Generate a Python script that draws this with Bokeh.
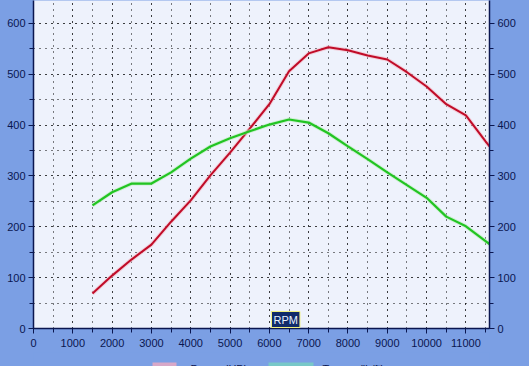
from bokeh.plotting import figure
from bokeh.models import (Range1d, LinearAxis, SingleIntervalTicker, Label)
from bokeh.layouts import column
from bokeh.core.properties import value
from bokeh.embed import file_html
from bokeh.resources import INLINE

rpm = [1500, 2000, 2500, 3000, 3500, 4000, 4500, 5000, 5500, 6000, 6500, 7000,
       7500, 8000, 8500, 9000, 9500, 10000, 10500, 11000, 11500, 11600]
power_hp = [69, 104, 136, 165, 210, 252, 301, 346, 393, 441, 506, 541,
            553, 547, 537, 529, 504, 476, 441, 419, 368, 358]
torque_lbft = [242, 268, 285, 285, 307, 334, 358, 374, 388, 401, 411, 405,
               384, 358, 333, 307, 282, 257, 220, 201, 172, 166]
y_ticks = [0, 100, 200, 300, 400, 500, 600]
x_ticks = [0, 1000, 2000, 3000, 4000, 5000, 6000, 7000, 8000, 9000, 10000, 11000]
legend_labels = ["Power (HP)", "Torque (lb/ft)"]
legend_colors = ["#d8a8c8", "#78c8c8"]
axis_title = "RPM"

OUTER = "#7b9fe4"
INNER = "#eef2fc"
NAVY = "#0a1650"

p = figure(width=529, height=352, output_backend="svg", toolbar_location=None,
           x_range=Range1d(0, 11600), y_range=Range1d(0, 645),
           min_border_left=33, min_border_right=40, min_border_top=0, min_border_bottom=24)
p.border_fill_color = OUTER
p.background_fill_color = INNER
p.outline_line_color = None
p.styles = {"background-color": OUTER}

def style_axis(ax, standoff=3):
    ax.axis_line_color = NAVY
    ax.axis_line_width = 1.5
    ax.major_tick_line_color = NAVY
    ax.minor_tick_line_color = NAVY
    ax.major_tick_out = 5
    ax.major_tick_in = 0
    ax.minor_tick_out = 4
    ax.minor_tick_in = 0
    ax.major_label_text_font = "Liberation Sans"
    ax.major_label_text_font_size = "11px"
    ax.major_label_text_color = NAVY
    ax.major_label_standoff = standoff

p.xaxis.ticker = SingleIntervalTicker(interval=1000, num_minor_ticks=2)
p.yaxis.ticker = SingleIntervalTicker(interval=100, num_minor_ticks=2)
p.xaxis.major_label_overrides = {t: str(t) for t in x_ticks}
style_axis(p.xaxis[0], standoff=5)
style_axis(p.yaxis[0])

ry = LinearAxis(ticker=SingleIntervalTicker(interval=100, num_minor_ticks=2))
style_axis(ry)
p.add_layout(ry, "right")

for g in (p.xgrid[0], p.ygrid[0]):
    g.grid_line_color = "black"
    g.grid_line_dash = "1 5"
    g.grid_line_width = 1
    g.minor_grid_line_color = "black"
    g.minor_grid_line_dash = "1 5"
    g.minor_grid_line_width = 1

p.line(rpm, power_hp, line_color="#f4b8c4", line_width=4, line_alpha=0.6)
p.line(rpm, power_hp, line_color="#c00c28", line_width=2)
p.line(rpm, torque_lbft, line_color="#b8ecb8", line_width=4, line_alpha=0.6)
p.line(rpm, torque_lbft, line_color="#22c422", line_width=2.2)

p.add_layout(Label(x=238, y=1, x_units="screen", y_units="screen", text=axis_title,
                   text_font="Liberation Sans", text_font_size="11px", text_color="#e8f0ff",
                   background_fill_color="#102a6a", border_line_color="#f0f080",
                   border_line_width=1, padding=2, text_baseline="bottom"))

# legend strip (mostly cropped at the bottom, as in the reference)
leg = figure(width=529, height=14, output_backend="svg", toolbar_location=None,
             x_range=Range1d(33, 489), y_range=Range1d(14, 0),
             min_border=0, x_axis_type=None, y_axis_type=None)
leg.border_fill_color = OUTER
leg.background_fill_color = OUTER
leg.outline_line_color = None
leg.grid.visible = False
leg.styles = {"background-color": OUTER}
leg.quad(left=[152, 268], right=[176, 313], top=[10, 10], bottom=[20, 20],
         fill_color=legend_colors, line_color=None)
leg.text(x=[190, 322], y=[10, 10], text=legend_labels, text_font=value("Liberation Sans"),
         text_font_size="11px", text_color=NAVY, text_baseline="top")

layout = column(p, leg, spacing=0)
layout.styles = {"background-color": OUTER}
html = file_html(layout, INLINE)
html = html.replace("<body>", '<body style="margin:0;background:%s">' % OUTER, 1)
open("out.html", "w").write(html)
